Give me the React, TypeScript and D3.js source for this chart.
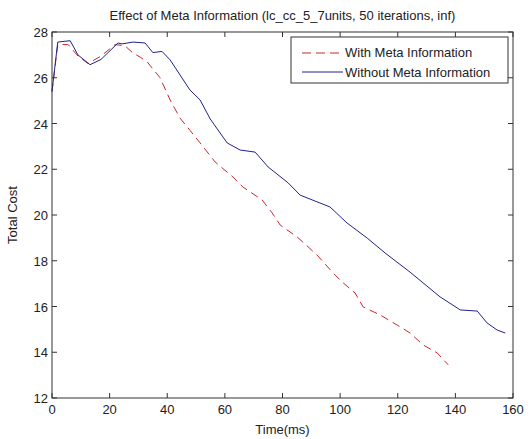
import React from 'react';
import * as d3 from 'd3';

const title = 'Effect of Meta Information (lc_cc_5_7units, 50 iterations, inf)';
const xTicks = [0, 20, 40, 60, 80, 100, 120, 140, 160];
const yTicks = [12, 14, 16, 18, 20, 22, 24, 26, 28];

// With Meta Information (red dashed)
const withTime = [0, 2, 5.6, 9, 12.5, 17, 21.9, 25.3, 28.1, 30.6, 33, 37.5, 41, 44.4, 47.9, 51.4, 56.6, 62.8, 66.3, 72.9, 76.4, 79.2, 85.1, 92, 97.6, 100.7, 105.2, 108, 113.9, 119.8, 124.3, 128.8, 133.7, 137.5];
const withCost = [25.4, 27.45, 27.45, 26.95, 26.62, 26.95, 27.45, 27.4, 27.08, 26.9, 26.7, 26.0, 25.03, 24.24, 23.7, 23.15, 22.32, 21.66, 21.22, 20.66, 20.09, 19.56, 19.04, 18.25, 17.46, 17.07, 16.59, 15.98, 15.63, 15.19, 14.84, 14.32, 13.97, 13.45];

// Without Meta Information (blue solid)
const withoutTime = [0, 2, 6.3, 9, 13.2, 17, 22.9, 24.3, 28.1, 32.3, 35, 38.2, 41, 47.9, 51.4, 54.9, 60.8, 65.3, 70.5, 75, 82, 86.1, 96.5, 102.4, 109.4, 115.6, 124.3, 134.7, 141.7, 147.6, 151, 154.5, 157.3];
const withoutCost = [25.4, 27.56, 27.62, 27.0, 26.57, 26.8, 27.52, 27.48, 27.56, 27.52, 27.1, 27.15, 26.78, 25.46, 25.03, 24.2, 23.15, 22.84, 22.75, 22.1, 21.4, 20.87, 20.35, 19.65, 18.99, 18.34, 17.5, 16.42, 15.85, 15.8, 15.28, 14.97, 14.84];

const W = 530;
const H = 439;
const m = { left: 52, right: 17, top: 32, bottom: 41 };
const font = 'Liberation Sans, Arial, sans-serif';

export default function App() {
  const x = d3.scaleLinear().domain([0, 160]).range([m.left, W - m.right]);
  const y = d3.scaleLinear().domain([12, 28]).range([H - m.bottom, m.top]);
  const line = d3.line<[number, number]>().x(d => x(d[0])).y(d => y(d[1]));

  const withPts = withTime.map((t, i) => [t, withCost[i]] as [number, number]);
  const withoutPts = withoutTime.map((t, i) => [t, withoutCost[i]] as [number, number]);

  const x0 = x(0), x1 = x(160), y0 = y(12), y1 = y(28);
  const tl = 5;

  return (
    <svg width={W} height={H} style={{ position: 'absolute', left: 0, top: 0, background: '#fff' }}
      fontFamily={font} fontSize={13}>
      <rect x={0} y={0} width={W} height={H} fill="#fff" />
      <path d={line(withPts) || ''} fill="none" stroke="#c8282d" strokeWidth={1} strokeDasharray="8,5" />
      <path d={line(withoutPts) || ''} fill="none" stroke="#22228c" strokeWidth={1} />

      <rect x={x0} y={y1} width={x1 - x0} height={y0 - y1} fill="none" stroke="#333" strokeWidth={1} />
      {xTicks.map(t => (
        <g key={'x' + t}>
          <line x1={x(t)} x2={x(t)} y1={y0} y2={y0 - tl} stroke="#333" />
          <line x1={x(t)} x2={x(t)} y1={y1} y2={y1 + tl} stroke="#333" />
          <text x={x(t)} y={y0 + 16} textAnchor="middle" fill="#222">{t}</text>
        </g>
      ))}
      {yTicks.map(t => (
        <g key={'y' + t}>
          <line x1={x0} x2={x0 + tl} y1={y(t)} y2={y(t)} stroke="#333" />
          <line x1={x1} x2={x1 - tl} y1={y(t)} y2={y(t)} stroke="#333" />
          <text x={x0 - 4} y={y(t) + 5} textAnchor="end" fill="#222">{t}</text>
        </g>
      ))}

      <text x={(x0 + x1) / 2} y={20} textAnchor="middle" fill="#222">{title}</text>
      <text x={(x0 + x1) / 2} y={434} textAnchor="middle" fill="#222">Time(ms)</text>
      <text transform={`translate(17,${(y0 + y1) / 2}) rotate(-90)`} textAnchor="middle" fill="#222">Total Cost</text>

      <g>
        <rect x={291} y={37} width={217} height={46} fill="#fff" stroke="#333" strokeWidth={1} />
        <line x1={302} x2={343} y1={53} y2={53} stroke="#c8282d" strokeDasharray="9,5" />
        <text x={345} y={57} fill="#222">With Meta Information</text>
        <line x1={302} x2={343} y1={72} y2={72} stroke="#22228c" />
        <text x={345} y={77} fill="#222">Without Meta Information</text>
      </g>
    </svg>
  );
}
